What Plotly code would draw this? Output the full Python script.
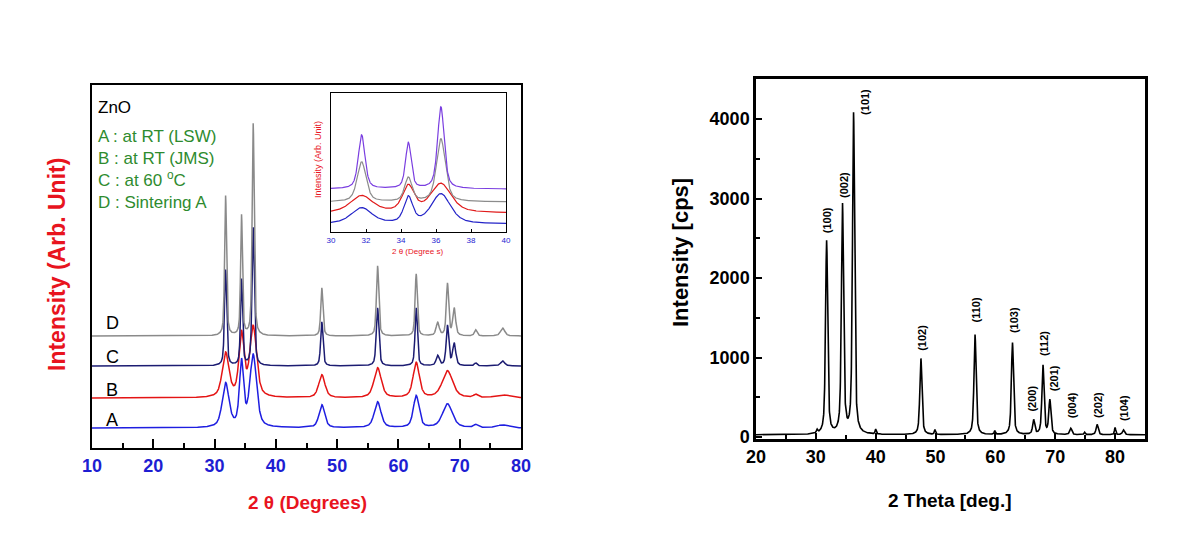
import numpy as np
import plotly.graph_objects as go

W, H = 1200, 544

# ---------------- LEFT PANEL: ZnO, four samples (arb. units) ----------------
zno_peak_pos = [31.8, 34.4, 36.3, 47.5, 56.6, 62.9, 66.4, 68.0, 69.1, 72.6, 77.0]
sample_names = ["A", "B", "C", "D"]
sample_offset = [20, 50, 82, 112]
heights_A = [44, 64, 72, 23, 26, 32, 0, 24, 0, 3, 3]
fwhm_A = [1.3, 0.8, 1.3, 1.1, 1.3, 1.1, 1.0, 1.9, 1.0, 0.8, 2.0]
heights_B = [44, 62, 70, 23, 30, 35, 0, 27, 0, 3, 3]
fwhm_B = [1.3, 1.0, 1.3, 1.2, 1.4, 1.2, 1.0, 2.0, 1.0, 0.8, 2.5]
heights_C = [96, 86, 138, 44, 58, 58, 10, 40, 22, 3, 5]
fwhm_C = [0.42, 0.4, 0.45, 0.45, 0.5, 0.45, 0.6, 0.5, 0.6, 0.5, 0.8]
heights_D = [140, 120, 212, 48, 70, 62, 13, 52, 27, 6, 8]
fwhm_D = [0.38, 0.36, 0.4, 0.42, 0.45, 0.42, 0.6, 0.45, 0.55, 0.5, 0.8]
sample_heights = [heights_A, heights_B, heights_C, heights_D]
sample_fwhm = [fwhm_A, fwhm_B, fwhm_C, fwhm_D]
sample_colors = ["#1e1ee0", "#e41414", "#1c1c72", "#8a8a8a"]
legend_lines = ["A : at RT (LSW)", "B : at RT (JMS)", "C : at 60 <sup>o</sup>C", "D : Sintering A"]

# ---------------- INSET: 30-40 deg zoom ----------------
inset_peak_pos = [31.75, 34.42, 36.28]
inset_offset = [8, 19, 30, 43]
inset_heights = [[16, 26, 30], [17, 26, 29], [40, 24, 63], [54, 46, 82]]
inset_fwhm = [[1.4, 0.6, 1.3], [1.5, 0.8, 1.4], [0.6, 0.5, 0.6], [0.45, 0.38, 0.45]]
inset_colors = ["#2424c8", "#e01a1a", "#8c8c8c", "#7a3ee0"]

# ---------------- RIGHT PANEL: ZnO XRD (cps) ----------------
hkl_labels = ["(100)", "(002)", "(101)", "(102)", "(110)", "(103)", "(200)", "(112)",
              "(201)", "(004)", "(202)", "(104)"]
hkl_pos = [31.8, 34.45, 36.3, 47.55, 56.6, 62.85, 66.4, 67.95, 69.1, 72.6, 77.0, 81.4]
hkl_heights = [2430, 2880, 4030, 960, 1260, 1160, 180, 870, 430, 80, 130, 60]
minor_pos = [30.2, 35.0, 40.0, 49.9, 59.9, 74.9, 80.0]
minor_heights = [40, 30, 60, 60, 45, 30, 90]
xrd_background = 28
label_x = [31.9, 34.7, 38.2, 47.7, 56.7, 63.1, 66.2, 68.1, 69.8, 72.8, 77.1, 81.5]
label_y = [2730, 3170, 4214, 1245, 1600, 1470, 490, 1180, 740, 400, 400, 365]


def pseudo_voigt(x, center, height, fwhm, eta=0.55):
    d = (x - center) / fwhm
    lor = 1.0 / (1.0 + 4.0 * d * d)
    gau = np.exp(-4.0 * np.log(2) * d * d)
    return height * (eta * lor + (1 - eta) * gau)


def pattern(x, base, positions, heights, widths, eta=0.55):
    y = np.full_like(x, float(base))
    for c, h, w in zip(positions, heights, widths):
        if h > 0:
            y = y + pseudo_voigt(x, c, h, w, eta)
    return y


# page body margin shifts the figure by 8 px; positions below are in screen px
OFF = 8


def px(xp):
    return (xp - OFF) / W


def py(yp):
    return 1 - (yp - OFF) / H


fig = go.Figure()
FONT = "Arial, Liberation Sans, sans-serif"

x_left = np.linspace(10, 80, 2801)
for name, off, hs, ws, col in zip(sample_names, sample_offset, sample_heights, sample_fwhm, sample_colors):
    fig.add_trace(go.Scatter(x=x_left, y=pattern(x_left, off, zno_peak_pos, hs, ws),
                             mode="lines", line=dict(color=col, width=1.5),
                             xaxis="x", yaxis="y", name=name, hoverinfo="skip"))

x_in = np.linspace(30, 40, 801)
for off, hs, ws, col in zip(inset_offset, inset_heights, inset_fwhm, inset_colors):
    fig.add_trace(go.Scatter(x=x_in, y=pattern(x_in, off, inset_peak_pos, hs, ws),
                             mode="lines", line=dict(color=col, width=1.2),
                             xaxis="x2", yaxis="y2", hoverinfo="skip"))

x_r = np.linspace(20, 85, 3251)
y_r = pattern(x_r, xrd_background, hkl_pos, hkl_heights, [0.42] * len(hkl_pos), eta=0.6)
y_r = y_r + pattern(x_r, 0, minor_pos, minor_heights, [0.25] * len(minor_pos))
fig.add_trace(go.Scatter(x=x_r, y=y_r, mode="lines", line=dict(color="black", width=1.6),
                         xaxis="x3", yaxis="y3", hoverinfo="skip"))

blue = "#1e1ed2"
red = "#e8141e"
green = "#2e8b2e"

fig.update_layout(
    width=W, height=H, margin=dict(l=0, r=0, t=0, b=0, pad=0, autoexpand=False),
    paper_bgcolor="white", plot_bgcolor="white", showlegend=False,
    font=dict(family=FONT, color="black"),
    xaxis=dict(domain=[px(92), px(521)], range=[10, 80], anchor="y", automargin=False,
               showline=True, linewidth=2, linecolor="black", mirror=True,
               ticks="inside", ticklen=9, tickwidth=1.5, tickcolor="black",
               tick0=10, dtick=10, showgrid=False, zeroline=False,
               minor=dict(ticks="inside", dtick=5, ticklen=5, tickcolor="black", tickwidth=1.5),
               tickfont=dict(size=18, color=blue, family=FONT, weight="bold")),
    yaxis=dict(domain=[py(448), py(85)], range=[0, 363], anchor="x", automargin=False,
               showline=True, linewidth=2, linecolor="black", mirror=True,
               showticklabels=False, ticks="", showgrid=False, zeroline=False),
    xaxis2=dict(domain=[px(331), px(506)], range=[30, 40], anchor="y2", automargin=False,
                showline=True, linewidth=1, linecolor="black", mirror=True,
                ticks="inside", ticklen=3, tickcolor="black", dtick=2,
                showgrid=False, zeroline=False,
                tickfont=dict(size=8, color=blue, family=FONT)),
    yaxis2=dict(domain=[py(232), py(93)], range=[0, 139], anchor="x2", automargin=False,
                showline=True, linewidth=1, linecolor="black", mirror=True,
                showticklabels=False, ticks="", showgrid=False, zeroline=False),
    xaxis3=dict(domain=[px(756), px(1145)], range=[20, 85], anchor="y3", automargin=False,
                showline=True, linewidth=2.5, linecolor="black", mirror=True,
                ticks="inside", ticklen=6, tickwidth=2, tickcolor="black",
                tick0=20, dtick=10, showgrid=False, zeroline=False,
                minor=dict(ticks="inside", dtick=5, ticklen=4, tickcolor="black", tickwidth=1.5),
                tickfont=dict(size=18, color="black", family=FONT, weight="bold")),
    yaxis3=dict(domain=[py(439), py(79)], range=[-25, 4503], anchor="x3", automargin=False,
                showline=True, linewidth=2.5, linecolor="black", mirror=True,
                ticks="inside", ticklen=6, tickwidth=2, tickcolor="black",
                tick0=0, dtick=1000, showgrid=False, zeroline=False,
                minor=dict(ticks="inside", dtick=500, ticklen=4, tickcolor="black", tickwidth=1.5),
                tickfont=dict(size=18, color="black", family=FONT, weight="bold")),
)

ann = []


def note(x, y, text, size, color, bold=False, angle=0, xanchor="center", yanchor="middle", **kw):
    f = dict(size=size, color=color, family=FONT)
    if bold:
        f["weight"] = "bold"
    ann.append(dict(x=px(x), y=py(y), xref="paper", yref="paper", showarrow=False,
                    text=text, textangle=angle, xanchor=xanchor, yanchor=yanchor, font=f, **kw))


# left panel titles
note(307, 502, "2 θ (Degrees)", 19, red, bold=True)
note(57, 265, "Intensity (Arb. Unit)", 23, red, bold=True, angle=-90)
note(96, 107, "ZnO", 17, "black", xanchor="left")
note(96, 125, "<br>".join(legend_lines), 17, green, xanchor="left", yanchor="top", align="left")
for name, yp in zip(sample_names, [420, 390, 357, 323]):
    note(112, yp, name, 18, "black")
# inset titles
note(417, 252, "2 θ (Degree s)", 8, red)
note(318, 160, "Intensity (Arb. Unit)", 9, red, angle=-90)
# right panel titles
note(950, 500, "2 Theta [deg.]", 19, "black", bold=True)
note(680, 253, "Intensity [cps]", 22, "black", bold=True, angle=-90)
for lab, lx, ly in zip(hkl_labels, label_x, label_y):
    ann.append(dict(x=lx, y=ly, xref="x3", yref="y3", showarrow=False, textangle=-90,
                    xanchor="center", yanchor="middle", text=lab,
                    font=dict(size=11, color="black", family=FONT, weight="bold")))

fig.update_layout(annotations=ann)
fig.write_html("out.html")
